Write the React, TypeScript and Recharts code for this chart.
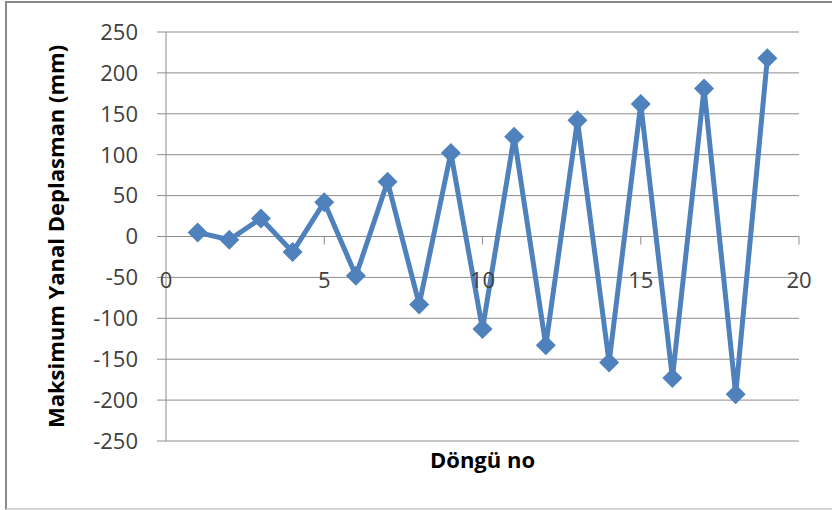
import React from "react";
import { LineChart, Line, XAxis, YAxis, CartesianGrid } from "recharts";

// cycle number vs max lateral displacement (mm)
const cycles = [1, 2, 3, 4, 5, 6, 7, 8, 9, 10, 11, 12, 13, 14, 15, 16, 17, 18, 19];
const displacement = [5, -4, 22, -19, 42, -48, 67, -83, 102, -113, 122, -133, 142, -154, 162, -173, 181, -193, 218];
const xTicks = [0, 5, 10, 15, 20];
const yTicks = [-250, -200, -150, -100, -50, 0, 50, 100, 150, 200, 250];

const data = cycles.map((c, i) => ({ cycle: c, value: displacement[i] }));

const W = 832;
const H = 510;
const MARGIN = { top: 32, right: 33, bottom: 33, left: 36 };
const X_AXIS_H = 36;
const PLOT_H = H - MARGIN.top - MARGIN.bottom - X_AXIS_H;
const ZERO_Y = MARGIN.top + PLOT_H / 2;

const GRID = "#8c8c8c";
const BLUE = "#4f81bd";
const FONT = "'Open Sans', sans-serif";

// Excel-style: the category axis crosses at y = 0, labels sit a bit lower
const XTick = ({ x, payload }: any) => (
  <g>
    {payload.value !== 0 && (
      <line x1={x} x2={x} y1={ZERO_Y} y2={ZERO_Y + 8} stroke={GRID} strokeWidth={1} />
    )}
    <text
      x={x}
      y={ZERO_Y + 42}
      textAnchor="middle"
      dominantBaseline="central"
      fill="#404040"
      fontSize={22}
      fontFamily={FONT}
    >
      {payload.value}
    </text>
  </g>
);

const Diamond = ({ cx, cy }: any) => {
  if (cx == null || cy == null) return null;
  const r = 10;
  return (
    <polygon
      points={`${cx},${cy - r} ${cx + r},${cy} ${cx},${cy + r} ${cx - r},${cy}`}
      fill={BLUE}
      stroke="none"
    />
  );
};

const YTitle = ({ viewBox }: any) => {
  const x = viewBox.x + 28;
  const y = viewBox.y + viewBox.height / 2;
  return (
    <text
      x={x}
      y={y}
      transform={`rotate(-90, ${x}, ${y})`}
      textAnchor="middle"
      fontSize={22}
      fontWeight="bold"
      fontFamily={FONT}
      fill="#000"
    >
      Maksimum Yanal Deplasman (mm)
    </text>
  );
};

const XTitle = ({ viewBox }: any) => (
  <text
    x={viewBox.x + viewBox.width / 2}
    y={viewBox.y + 27}
    textAnchor="middle"
    fontSize={22}
    fontWeight="bold"
    fontFamily={FONT}
    fill="#000"
  >
    Döngü no
  </text>
);

export default function App() {
  return (
    <div style={{ position: "absolute", left: 0, top: 0, width: W, height: H, background: "#fff" }}>
      <div
        style={{
          position: "absolute",
          left: 5,
          top: 1,
          width: W,
          height: 505,
          borderLeft: "2px solid #8a8a8a",
          borderTop: "2px solid #8a8a8a",
          borderBottom: "2px solid #d6d6d6",
        }}
      />
      <div style={{ position: "absolute", left: 0, top: 0 }}>
        <LineChart width={W} height={H} data={data} margin={MARGIN}>
          <CartesianGrid vertical={false} stroke={GRID} strokeWidth={1} />
          <XAxis
            dataKey="cycle"
            type="number"
            domain={[0, 20]}
            ticks={xTicks}
            axisLine={false}
            tickLine={false}
            height={X_AXIS_H}
            tick={<XTick />}
            label={<XTitle />}
          />
          <YAxis
            type="number"
            domain={[-250, 250]}
            ticks={yTicks}
            width={130}
            axisLine={{ stroke: GRID, strokeWidth: 1 }}
            tickLine={{ stroke: GRID, strokeWidth: 1 }}
            tickSize={9}
            tickMargin={19}
            tick={{ fill: "#404040", fontSize: 22, fontFamily: FONT }}
            label={<YTitle />}
          />
          <Line
            type="linear"
            dataKey="value"
            stroke={BLUE}
            strokeWidth={5}
            dot={<Diamond />}
            activeDot={false}
            isAnimationActive={false}
          />
        </LineChart>
      </div>
    </div>
  );
}
